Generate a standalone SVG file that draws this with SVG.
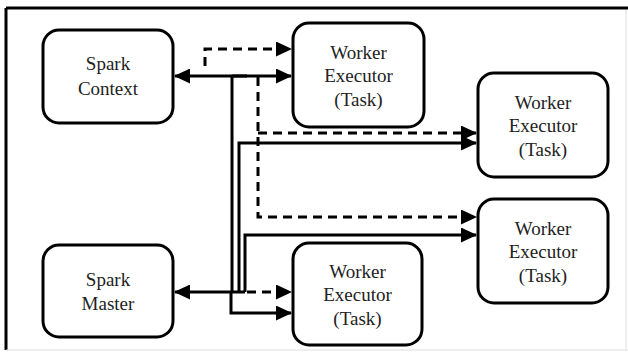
<svg xmlns="http://www.w3.org/2000/svg" width="628" height="352" viewBox="0 0 628 352">
<style>
.box{fill:#fff;stroke:#000;stroke-width:3}
.t{font-family:"Liberation Serif","Times New Roman",serif;font-size:19px;fill:#222;text-anchor:middle}
.c{fill:none;stroke:#000;stroke-width:3}
.d{fill:none;stroke:#000;stroke-width:3;stroke-dasharray:9 6}
</style>
<defs>
<marker id="ah" markerUnits="userSpaceOnUse" markerWidth="16" markerHeight="15" refX="15" refY="7.5" orient="auto-start-reverse">
<path d="M0,0 L16,7.5 L0,15 z" fill="#000"/>
</marker>
</defs>
<rect width="628" height="352" fill="#fff"/>
<g id="frame">
<line x1="6" y1="8" x2="628" y2="8" stroke="#000" stroke-width="3"/>
<line x1="6" y1="8" x2="6" y2="350" stroke="#000" stroke-width="3"/>
<line x1="626" y1="10" x2="626" y2="350" stroke="#ddd" stroke-width="1"/>
<line x1="6" y1="350" x2="628" y2="350" stroke="#ddd" stroke-width="1"/>
</g>
<g id="connectors">
<path class="c" d="M175,76 H291" marker-start="url(#ah)" marker-end="url(#ah)"/>
<path class="d" d="M205,66 V49 H291" marker-end="url(#ah)"/>
<path class="c" d="M232,76 V292"/>
<path class="c" d="M232,76 H247"/>
<path class="c" d="M239,292 V143 H476" marker-end="url(#ah)"/>
<path class="d" d="M258,77 V217 H476" marker-end="url(#ah)"/>
<path class="d" d="M258,133 H476" marker-end="url(#ah)"/>
<path class="c" d="M245,292 V235 H476" marker-end="url(#ah)"/>
<path class="c" d="M175,292 H245" marker-start="url(#ah)"/>
<path class="d" d="M247,292 H291" marker-end="url(#ah)"/>
<path class="c" d="M231,292 V313 H291" marker-end="url(#ah)"/>
</g>
<g id="spark-context">
<rect class="box" x="43" y="30" width="130" height="93" rx="16"/>
<text class="t" x="108" y="70">Spark</text>
<text class="t" x="108" y="95">Context</text>
</g>
<g id="spark-master">
<rect class="box" x="43" y="245" width="130" height="92" rx="16"/>
<text class="t" x="108" y="286">Spark</text>
<text class="t" x="108" y="310">Master</text>
</g>
<g id="worker1">
<rect class="box" x="293" y="23" width="131" height="104" rx="16"/>
<text class="t" x="358.5" y="59">Worker</text>
<text class="t" x="358.5" y="82">Executor</text>
<text class="t" x="358.5" y="106">(Task)</text>
</g>
<g id="worker2">
<rect class="box" x="478" y="73" width="130" height="104" rx="16"/>
<text class="t" x="543" y="109">Worker</text>
<text class="t" x="543" y="132">Executor</text>
<text class="t" x="543" y="156">(Task)</text>
</g>
<g id="worker3">
<rect class="box" x="478" y="199" width="130" height="104" rx="16"/>
<text class="t" x="543" y="235">Worker</text>
<text class="t" x="543" y="258">Executor</text>
<text class="t" x="543" y="282">(Task)</text>
</g>
<g id="worker4">
<rect class="box" x="293" y="243" width="129" height="102" rx="16"/>
<text class="t" x="357.5" y="278">Worker</text>
<text class="t" x="357.5" y="301">Executor</text>
<text class="t" x="357.5" y="325">(Task)</text>
</g>
</svg>
